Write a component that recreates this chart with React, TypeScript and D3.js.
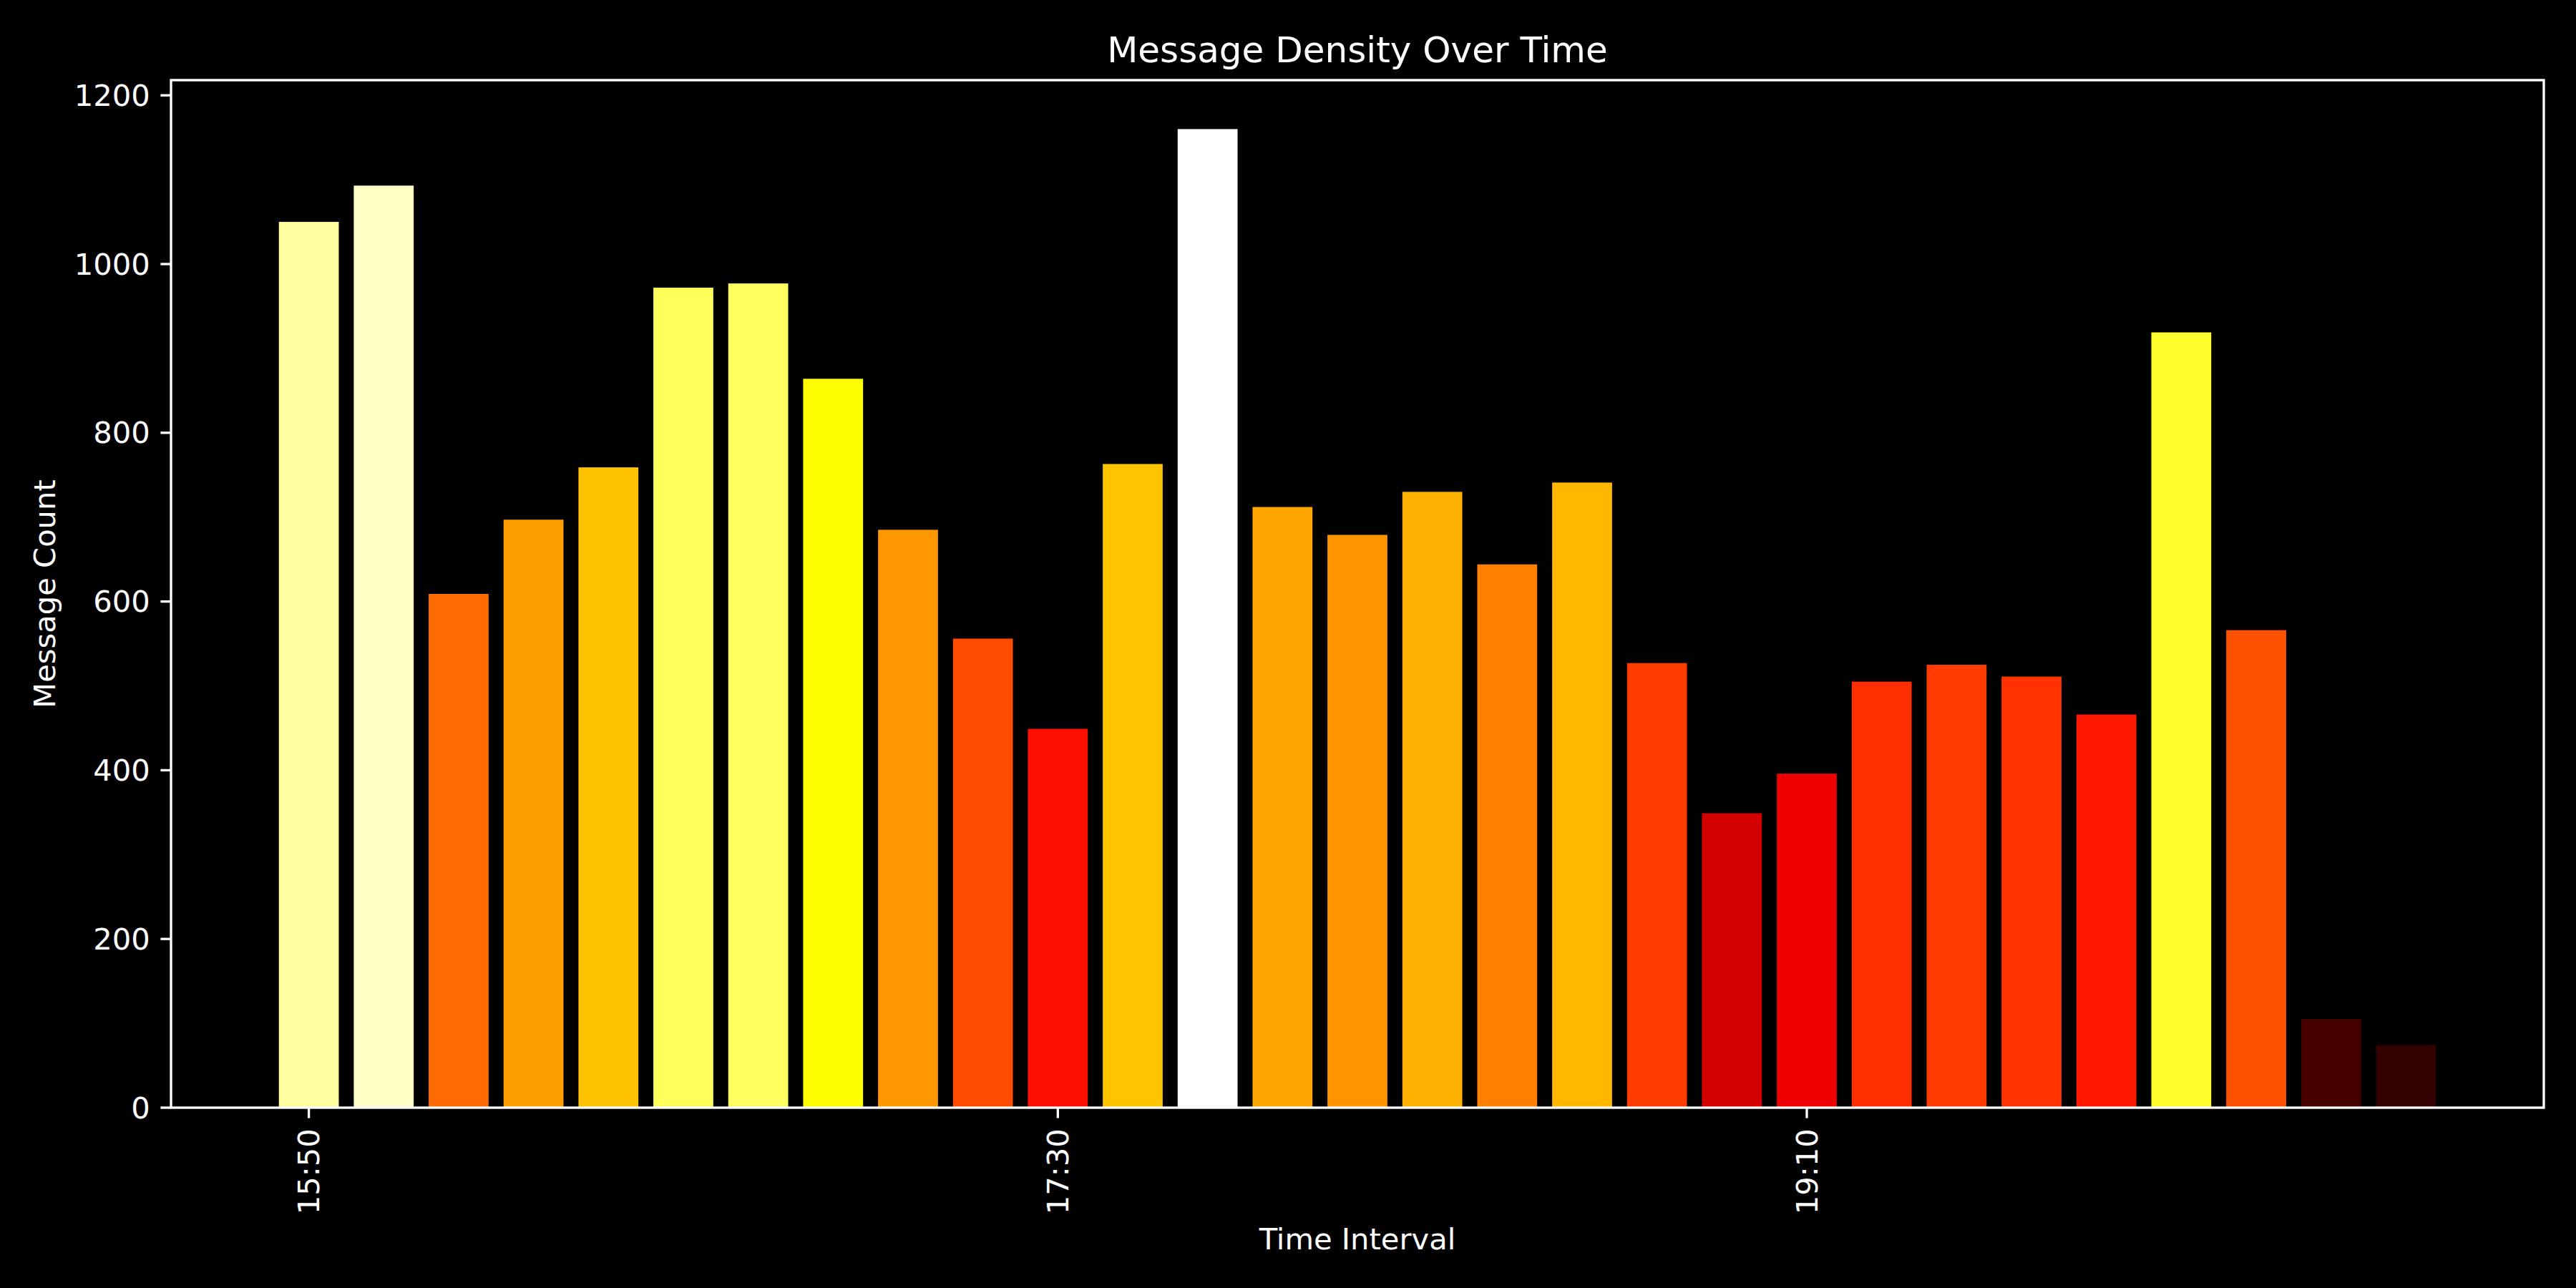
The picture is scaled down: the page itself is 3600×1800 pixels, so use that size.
import React from "react";
import * as d3 from "d3";

const times = [
  "15:50", "16:00", "16:10", "16:20", "16:30", "16:40", "16:50", "17:00", "17:10", "17:20",
  "17:30", "17:40", "17:50", "18:00", "18:10", "18:20", "18:30", "18:40", "18:50", "19:00",
  "19:10", "19:20", "19:30", "19:40", "19:50", "20:00", "20:10", "20:20", "20:30",
];
const counts = [
  1050, 1093, 609, 697, 759, 972, 977, 864, 685, 556,
  449, 763, 1160, 712, 679, 730, 644, 741, 527, 349,
  396, 505, 525, 511, 466, 919, 566, 105, 74,
];
const yTicks = [0, 200, 400, 600, 800, 1000, 1200];
const xTickLabels = ["15:50", "17:30", "19:10"];

// matplotlib "hot" colormap
function hot(t: number): string {
  const c = Math.max(0, Math.min(1, t));
  const r = c < 0.365079 ? 0.0416 + (c / 0.365079) * (1 - 0.0416) : 1;
  const g = c < 0.365079 ? 0 : c < 0.746032 ? (c - 0.365079) / (0.746032 - 0.365079) : 1;
  const b = c < 0.746032 ? 0 : (c - 0.746032) / (1 - 0.746032);
  return d3.rgb(r * 255, g * 255, b * 255).formatHex();
}

const W = 3600;
const H = 1800;
const L = 239, R = 3555, T = 112, B = 1548;
const PT = 300 / 72;

export default function App() {
  const n = counts.length;
  const maxV = d3.max(counts) as number;
  const x = d3.scaleLinear().domain([-0.4 - 0.05 * (n - 0.2), n - 1 + 0.4 + 0.05 * (n - 0.2)]).range([L, R]);
  const y = d3.scaleLinear().domain([0, maxV * 1.05]).range([B, T]);
  const bw = 0.8;
  const tickLen = 3.5 * PT;
  const pad = 3.5 * PT;
  const fs = 10 * PT;
  const font = "DejaVu Sans";
  const lw = 0.8 * PT;

  return (
    <svg width={W} height={H} style={{ position: "absolute", left: 0, top: 0, background: "#000" }} fontFamily={font}>
      <rect x={0} y={0} width={W} height={H} fill="#000" />
      {counts.map((v, i) => (
        <rect
          key={i}
          x={x(i - bw / 2)}
          y={y(v)}
          width={x(i + bw / 2) - x(i - bw / 2)}
          height={y(0) - y(v)}
          fill={hot(v / maxV)}
        />
      ))}
      <rect x={L} y={T} width={R - L} height={B - T} fill="none" stroke="#fff" strokeWidth={lw} />
      {yTicks.map((t) => (
        <g key={t}>
          <line x1={L - tickLen} x2={L} y1={y(t)} y2={y(t)} stroke="#fff" strokeWidth={lw} />
          <text x={L - tickLen - pad} y={y(t)} fill="#fff" fontSize={fs} textAnchor="end" dominantBaseline="central">
            {t}
          </text>
        </g>
      ))}
      {xTickLabels.map((lab) => {
        const i = times.indexOf(lab);
        const cx = x(i);
        const ty = B + tickLen + pad;
        return (
          <g key={lab}>
            <line x1={cx} x2={cx} y1={B} y2={B + tickLen} stroke="#fff" strokeWidth={lw} />
            <text
              transform={`translate(${cx},${ty}) rotate(-90)`}
              fill="#fff"
              fontSize={fs}
              textAnchor="end"
              dominantBaseline="central"
            >
              {lab}
            </text>
          </g>
        );
      })}
      <text x={(L + R) / 2} y={1731} fill="#fff" fontSize={fs} textAnchor="middle" dominantBaseline="central">
        Time Interval
      </text>
      <text
        transform={`translate(62,${(T + B) / 2}) rotate(-90)`}
        fill="#fff"
        fontSize={fs}
        textAnchor="middle"
        dominantBaseline="central"
      >
        Message Count
      </text>
      <text x={(L + R) / 2} y={T - 6 * PT} fill="#fff" fontSize={12 * PT} textAnchor="middle">
        Message Density Over Time
      </text>
    </svg>
  );
}
